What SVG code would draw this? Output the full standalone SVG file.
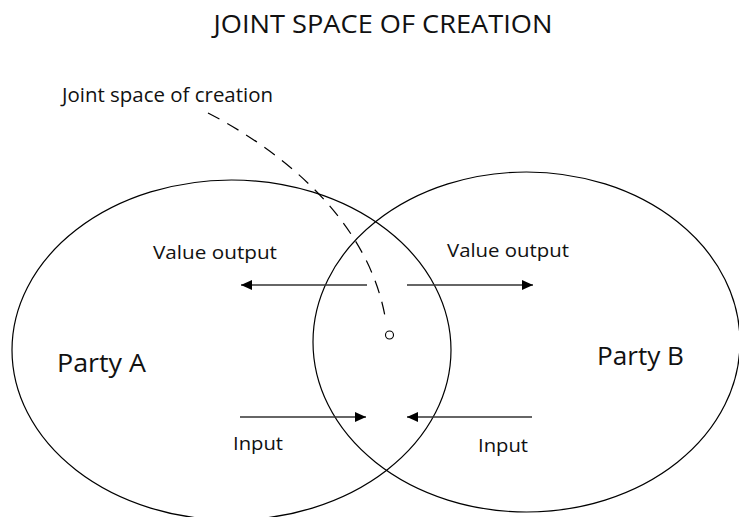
<svg xmlns="http://www.w3.org/2000/svg" width="739" height="517" viewBox="0 0 739 517">
  <defs>
    <style>
      .t { font-family: "Open Sans", "Liberation Sans", sans-serif; fill: #111; }
      .ell { fill: none; stroke: #000; stroke-width: 1.2; }
      .arr { stroke: #333; stroke-width: 1.3; fill: none; }
      .dash { fill: none; stroke: #000; stroke-width: 1.2; stroke-dasharray: 13 9; }
    </style>
    <marker id="ah" markerWidth="12" markerHeight="10" refX="11" refY="5" orient="auto" markerUnits="userSpaceOnUse">
      <path d="M0,0 L11,5 L0,10 Z" fill="#000"/>
    </marker>
  </defs>
  <rect width="739" height="517" fill="#fff"/>
  <text class="t" x="383" y="33" font-size="25" text-anchor="middle" textLength="339" lengthAdjust="spacingAndGlyphs">JOINT SPACE OF CREATION</text>

  <g id="partyA">
    <ellipse class="ell" cx="231.5" cy="350" rx="219.5" ry="170"/>
    <text class="t" x="57" y="372" font-size="25" textLength="89" lengthAdjust="spacingAndGlyphs">Party A</text>
  </g>
  <g id="partyB">
    <ellipse class="ell" cx="526.5" cy="342" rx="213.5" ry="170"/>
    <text class="t" x="597" y="365" font-size="25" textLength="87" lengthAdjust="spacingAndGlyphs">Party B</text>
  </g>
  <g id="jointPoint">
    <circle cx="389.5" cy="335" r="4" fill="#fff" stroke="#000" stroke-width="1.1"/>
    <text class="t" x="62" y="102" font-size="20" textLength="211" lengthAdjust="spacingAndGlyphs">Joint space of creation</text>
  </g>
  <g id="labels">
    <text class="t" x="153" y="259" font-size="18.5" textLength="124" lengthAdjust="spacingAndGlyphs">Value output</text>
    <text class="t" x="447" y="257" font-size="18.5" textLength="122" lengthAdjust="spacingAndGlyphs">Value output</text>
    <text class="t" x="233" y="450" font-size="19" textLength="50" lengthAdjust="spacingAndGlyphs">Input</text>
    <text class="t" x="478" y="452" font-size="19" textLength="50" lengthAdjust="spacingAndGlyphs">Input</text>
  </g>

  <g id="connectors">
    <path class="dash" d="M208,113 C280,150 370,220 386,322"/>
    <line class="arr" x1="367" y1="285" x2="241" y2="285" marker-end="url(#ah)"/>
    <line class="arr" x1="407" y1="285" x2="533" y2="285" marker-end="url(#ah)"/>
    <line class="arr" x1="240" y1="417" x2="366" y2="417" marker-end="url(#ah)"/>
    <line class="arr" x1="532" y1="417" x2="407" y2="417" marker-end="url(#ah)"/>
  </g>
</svg>
